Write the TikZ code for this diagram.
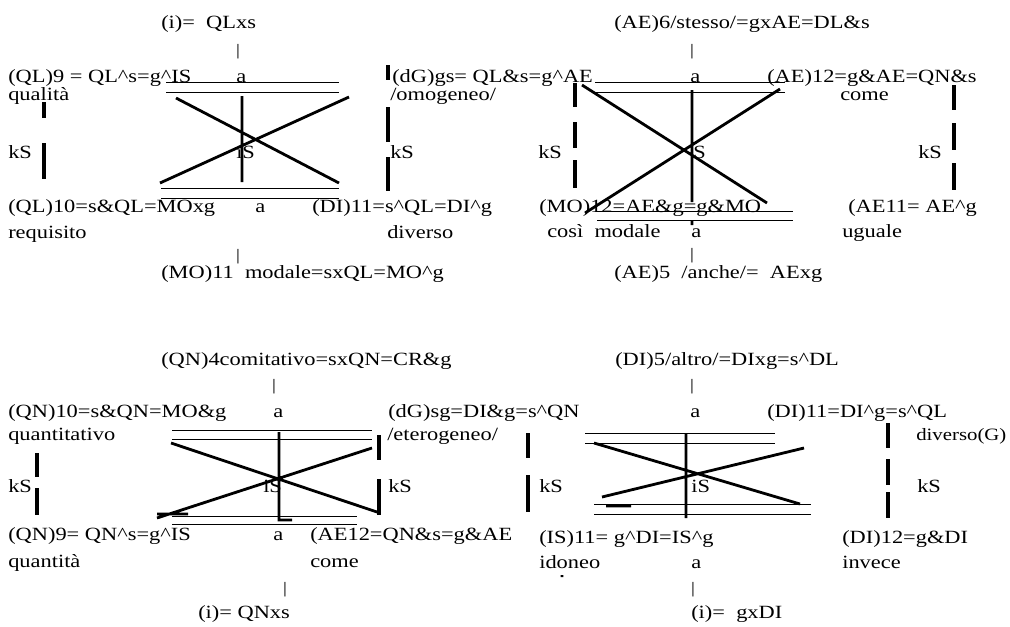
\documentclass[tikz,border=0pt]{standalone}
\usepackage{fontspec}
\setmainfont{Liberation Serif}[FakeStretch=1.2]
\newcommand{\crt}{\textasciicircum}
\begin{document}
\begin{tikzpicture}[x=0.75pt,y=-0.75pt,
  txt/.style={anchor=base west,inner sep=0pt,font=\fontsize{14}{16}\selectfont},
  pipe/.style={inner sep=0pt,font=\fontsize{12}{14}\selectfont},
  hl/.style={line width=0.75pt},
  hv/.style={line width=2.1pt},
  bar/.style={line width=2.4pt}]
\useasboundingbox (0,0) rectangle (1010,626);

% ---------------- top left block
\node[txt] (a1) at (161,28) {(i)=~ QLxs};
\node[pipe] (a2) at (238,52) {|};
\node[txt] (a3) at (8,82) {(QL)9 = QL\crt s=g\crt IS};
\node[txt] (a4) at (236,82) {a};
\node[txt] (a5) at (8,100) {qualità};
\node[txt] (a6) at (8,158) {kS};
\node[txt] (a7) at (236,158) {iS};
\node[txt] (a8) at (8,212) {(QL)10=s\&QL=MOxg};
\node[txt] (a9) at (255,212) {a};
\node[txt] (a10) at (312,212) {(DI)11=s\crt QL=DI\crt g};
\node[txt] (a11) at (8,238) {requisito};
\node[txt] (a12) at (387,238) {diverso};
\node[pipe] (a13) at (238,257) {|};
\node[txt] (a14) at (161,278) {(MO)11~ modale=sxQL=MO\crt g};
\node[txt] (a15) at (392,82) {(dG)gs= QL\&s=g\crt AE};
\node[txt] (a16) at (390,100) {/omogeneo/};
\node[txt] (a17) at (390,158) {kS};

\draw[hl] (166,82)--(339,82) (166,92)--(339,92) (161,188)--(339,188) (161,198)--(339,198);
\draw[hv] (176,98)--(339,183) (349,97)--(160,183) (242,96)--(242,182);
\draw[bar] (44,102)--(44,118) (44,143)--(44,179) (388,65)--(388,80) (388,107)--(388,142) (388,157)--(388,191);

% ---------------- top right block
\node[txt] (b1) at (614,28) {(AE)6/stesso/=gxAE=DL\&s};
\node[pipe] (b2) at (692,52) {|};
\node[txt] (b3) at (690,82) {a};
\node[txt] (b4) at (767,82) {(AE)12=g\&AE=QN\&s};
\node[txt] (b5) at (840,100) {come};
\node[txt] (b6) at (538,158) {kS};
\node[txt] (b7) at (693,158) {S};
\node[txt] (b8) at (918,158) {kS};
\node[txt] (b9) at (539,212) {(MO)12=AE\&g=g\&MO};
\node[txt] (b10) at (547,237) {così~ modale};
\node[txt] (b11) at (691,237) {a};
\node[pipe] (b12) at (692,256) {|};
\node[txt] (b13) at (614,278) {(AE)5~ /anche/=~ AExg};
\node[txt] (b14) at (848,212) {(AE11= AE\crt g};
\node[txt] (b15) at (842,237) {uguale};

\draw[hl] (595,82)--(785,82) (595,92)--(785,92) (597,211)--(793,211) (597,220)--(793,220);
\draw[hv] (582,85)--(767,203) (780,89)--(585,213) (692,90)--(692,202) (692,221)--(692,225);
\draw[bar] (575,83)--(575,107) (575,122)--(575,148) (575,160)--(575,188)
           (954,85)--(954,110) (954,123)--(954,150) (954,163)--(954,190);

% ---------------- bottom left block
\node[txt] (c1) at (161,365) {(QN)4comitativo=sxQN=CR\&g};
\node[pipe] (c2) at (274,387) {|};
\node[txt] (c3) at (8,417) {(QN)10=s\&QN=MO\&g};
\node[txt] (c4) at (273,417) {a};
\node[txt] (c5) at (388,417) {(dG)sg=DI\&g=s\crt QN};
\node[txt] (c6) at (8,440) {quantitativo};
\node[txt] (c7) at (387,440) {/eterogeneo/};
\node[txt] (c8) at (8,492) {kS};
\node[txt] (c9) at (263,492) {iS};
\node[txt] (c10) at (388,492) {kS};
\node[txt] (c11) at (8,540) {(QN)9= QN\crt s=g\crt IS};
\node[txt] (c12) at (273,540) {a};
\node[txt] (c13) at (310,540) {(AE12=QN\&s=g\&AE};
\node[txt] (c14) at (8,567) {quantità};
\node[txt] (c15) at (310,567) {come};
\node[pipe] (c16) at (285,590) {|};
\node[txt] (c17) at (198,618) {(i)= QNxs};

\draw[hl] (172,430)--(372,430) (172,439)--(372,439) (172,516)--(357,516) (172,524)--(357,524);
\draw[hv] (171,443)--(380,513) (372,448)--(157,518) (279,432)--(279,520)--(292,520) (157,514)--(188,514);
\draw[bar] (379,435)--(379,460) (379,479)--(379,515) (37,453)--(37,477) (37,488)--(37,515);

% ---------------- bottom right block
\node[txt] (d1) at (615,365) {(DI)5/altro/=DIxg=s\crt DL};
\node[pipe] (d2) at (692,387) {|};
\node[txt] (d3) at (690,417) {a};
\node[txt] (d4) at (767,417) {(DI)11=DI\crt g=s\crt QL};
\node[txt,font=\fontsize{13}{15}\selectfont] (d5) at (916,440) {diverso(G)};
\node[txt] (d6) at (539,492) {kS};
\node[txt] (d7) at (691,492) {iS};
\node[txt] (d8) at (917,492) {kS};
\node[txt] (d9) at (539,543) {(IS)11= g\crt DI=IS\crt g};
\node[txt] (d10) at (539,568) {idoneo};
\node[txt] (d11) at (691,568) {a};
\node[pipe] (d12) at (693,590) {|};
\node[txt] (d13) at (691,618) {(i)=~ gxDI};
\node[txt] (d14) at (842,543) {(DI)12=g\&DI};
\node[txt] (d15) at (842,568) {invece};

\draw[hl] (585,433)--(775,433) (585,443)--(775,443) (594,504)--(811,504) (594,514)--(811,514);
\draw[hv] (594,443)--(800,504) (804,448)--(602,497) (686,433)--(686,518) (606,506)--(631,506) (562,575)--(562,577);
\draw[bar] (528,433)--(528,458) (528,475)--(528,512)
           (888,423)--(888,448) (888,459)--(888,485) (888,492)--(888,518);
\end{tikzpicture}
\end{document}
